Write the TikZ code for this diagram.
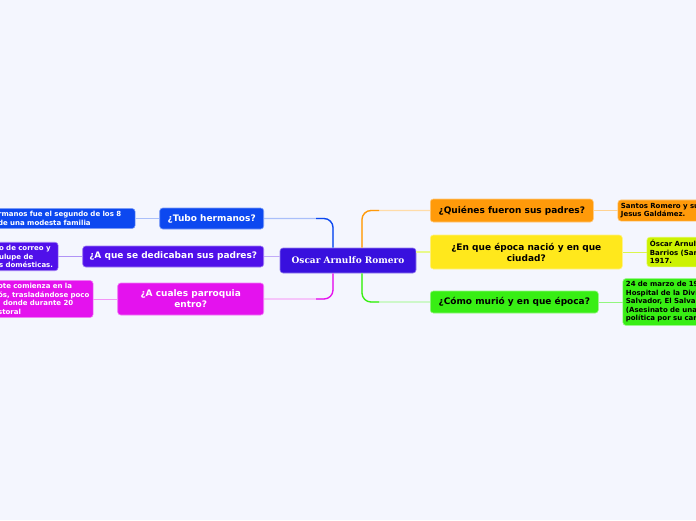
\documentclass[tikz,border=0pt]{standalone}
\usepackage{fontspec}
\newfontfamily\mapfont{DejaVu Sans}
\newfontfamily\rootfont{DejaVu Serif}
\usetikzlibrary{positioning}

\definecolor{bgcol}{HTML}{F4F6FE}
\definecolor{rootcol}{HTML}{3810DE}
\definecolor{bluecol}{HTML}{0C48F0}
\definecolor{purplecol}{HTML}{5010EA}
\definecolor{magcol}{HTML}{E412EE}
\definecolor{orangecol}{HTML}{FF9A0A}
\definecolor{yellowcol}{HTML}{FFE81C}
\definecolor{limecol}{HTML}{CCF200}
\definecolor{greencol}{HTML}{38EE14}

\begin{document}
\begin{tikzpicture}[
    x=1pt, y=-1pt,
    node distance=24pt,
    tint/.style={fill=#1, draw=#1!55!white},
    root/.style={tint=rootcol, line width=0.6pt, rounded corners=3pt,
      text=white, font=\rootfont\bfseries\fontsize{9}{11}\selectfont,
      minimum width=136pt, minimum height=25pt},
    branch/.style={rounded corners=3pt, line width=0.6pt, align=center,
      font=\mapfont\bfseries\fontsize{9}{11}\selectfont, inner ysep=2pt},
    leaf/.style={rounded corners=3pt, line width=0.6pt, align=left,
      font=\mapfont\bfseries\fontsize{7}{8.5}\selectfont,
      inner xsep=3pt, inner ysep=3pt},
    link/.style={line width=1.3pt, rounded corners=9pt},
    sublink/.style={line width=1pt}
  ]
  \useasboundingbox (0,0) rectangle (696,520);
  \fill[bgcol] (0,0) rectangle (696,520);
  \clip (0,0) rectangle (696,520);

  \node[root] (root) at (348,260.5) {Oscar Arnulfo Romero};

  % left side
  \node[branch, tint=bluecol, text=white, anchor=east,
    minimum width=104pt, minimum height=21pt] (tubo) at (264,218.5)
    {¿Tubo hermanos?};
  \node[branch, tint=purplecol, text=white, anchor=east,
    minimum width=181pt, minimum height=21pt] (padres) at (264,256.5)
    {¿A que se dedicaban sus padres?};
  \node[branch, tint=magcol, text=white, anchor=east,
    minimum width=146pt, minimum height=32pt] (parroquia) at (264,299)
    {¿A cuales parroquia\\entro?};

  \node[leaf, tint=bluecol, text=white, text width=134pt, left=of tubo]
    (hermanos) {rmanos fue el segundo de los 8\\de una modesta familia};
  \node[leaf, tint=purplecol, text=white, text width=56pt, left=of padres]
    (oficio) {o de correo y\\ulupe de\\s domésticas.};
  \node[leaf, tint=magcol, text=white, text width=92pt, left=of parroquia]
    (sacerdote) {ote comienza en la\\ós, trasladándose poco\\, donde durante 20\\storal};

  % right side
  \node[branch, tint=orangecol, text=black, anchor=west,
    minimum width=163pt, minimum height=23pt] (quienes) at (430,210.5)
    {¿Quiénes fueron sus padres?};
  \node[branch, tint=yellowcol, text=black, anchor=west,
    minimum width=192pt, minimum height=34pt] (epoca) at (430,252)
    {¿En que época nació y en que\\ciudad?};
  \node[branch, tint=greencol, text=black, anchor=west,
    minimum width=168pt, minimum height=22pt] (murio) at (430,302)
    {¿Cómo murió y en que época?};

  \node[leaf, tint=orangecol, text=black, text width=100pt, right=of quienes]
    (nombres) {Santos Romero y su\\Jesus Galdámez.};
  \node[leaf, tint=limecol, text=black, text width=100pt, right=of epoca]
    (nacio) {Óscar Arnulf\\Barrios (San\\1917.};
  \node[leaf, tint=greencol, text=black, text width=100pt, right=of murio]
    (muerte) {24 de marzo de 19\\Hospital de la Divi\\Salvador, El Salva\\(Asesinato de una\\política por su car};

  % connectors from the root
  \draw[link, bluecol!35] (tubo.east) -| ([xshift=-15pt]root.north);
  \draw[link, bluecol] ([xshift=-32pt]root.north |- tubo.east) -| ([xshift=-15pt]root.north);
  \draw[link, purplecol!35] (padres.east) -- (padres.east -| root.west);
  \draw[link, magcol!35] (parroquia.east) -| ([xshift=-15pt]root.south);
  \draw[link, magcol] ([xshift=-32pt]root.south |- parroquia.east) -| ([xshift=-15pt]root.south);
  \draw[link, orangecol!35] (quienes.west) -| ([xshift=14pt]root.north);
  \draw[link, orangecol] ([xshift=31pt]root.north |- quienes.west) -| ([xshift=14pt]root.north);
  \draw[link, limecol!45] (epoca.west) -- (epoca.west -| root.east);
  \draw[link, greencol!35] (murio.west) -| ([xshift=14pt]root.south);
  \draw[link, greencol] ([xshift=31pt]root.south |- murio.west) -| ([xshift=14pt]root.south);

  % connectors to the leaves
  \draw[sublink, bluecol!35] (tubo.west) -- (tubo.west -| hermanos.east);
  \draw[sublink, purplecol!45] (padres.west) -- (padres.west -| oficio.east);
  \draw[sublink, magcol!45] (parroquia.west) -- (parroquia.west -| sacerdote.east);
  \draw[sublink, orangecol!45] (quienes.east) -- (quienes.east -| nombres.west);
  \draw[sublink, limecol!70] (epoca.east) -- (epoca.east -| nacio.west);
  \draw[sublink, greencol!55] (murio.east) -- (murio.east -| muerte.west);
\end{tikzpicture}
\end{document}
